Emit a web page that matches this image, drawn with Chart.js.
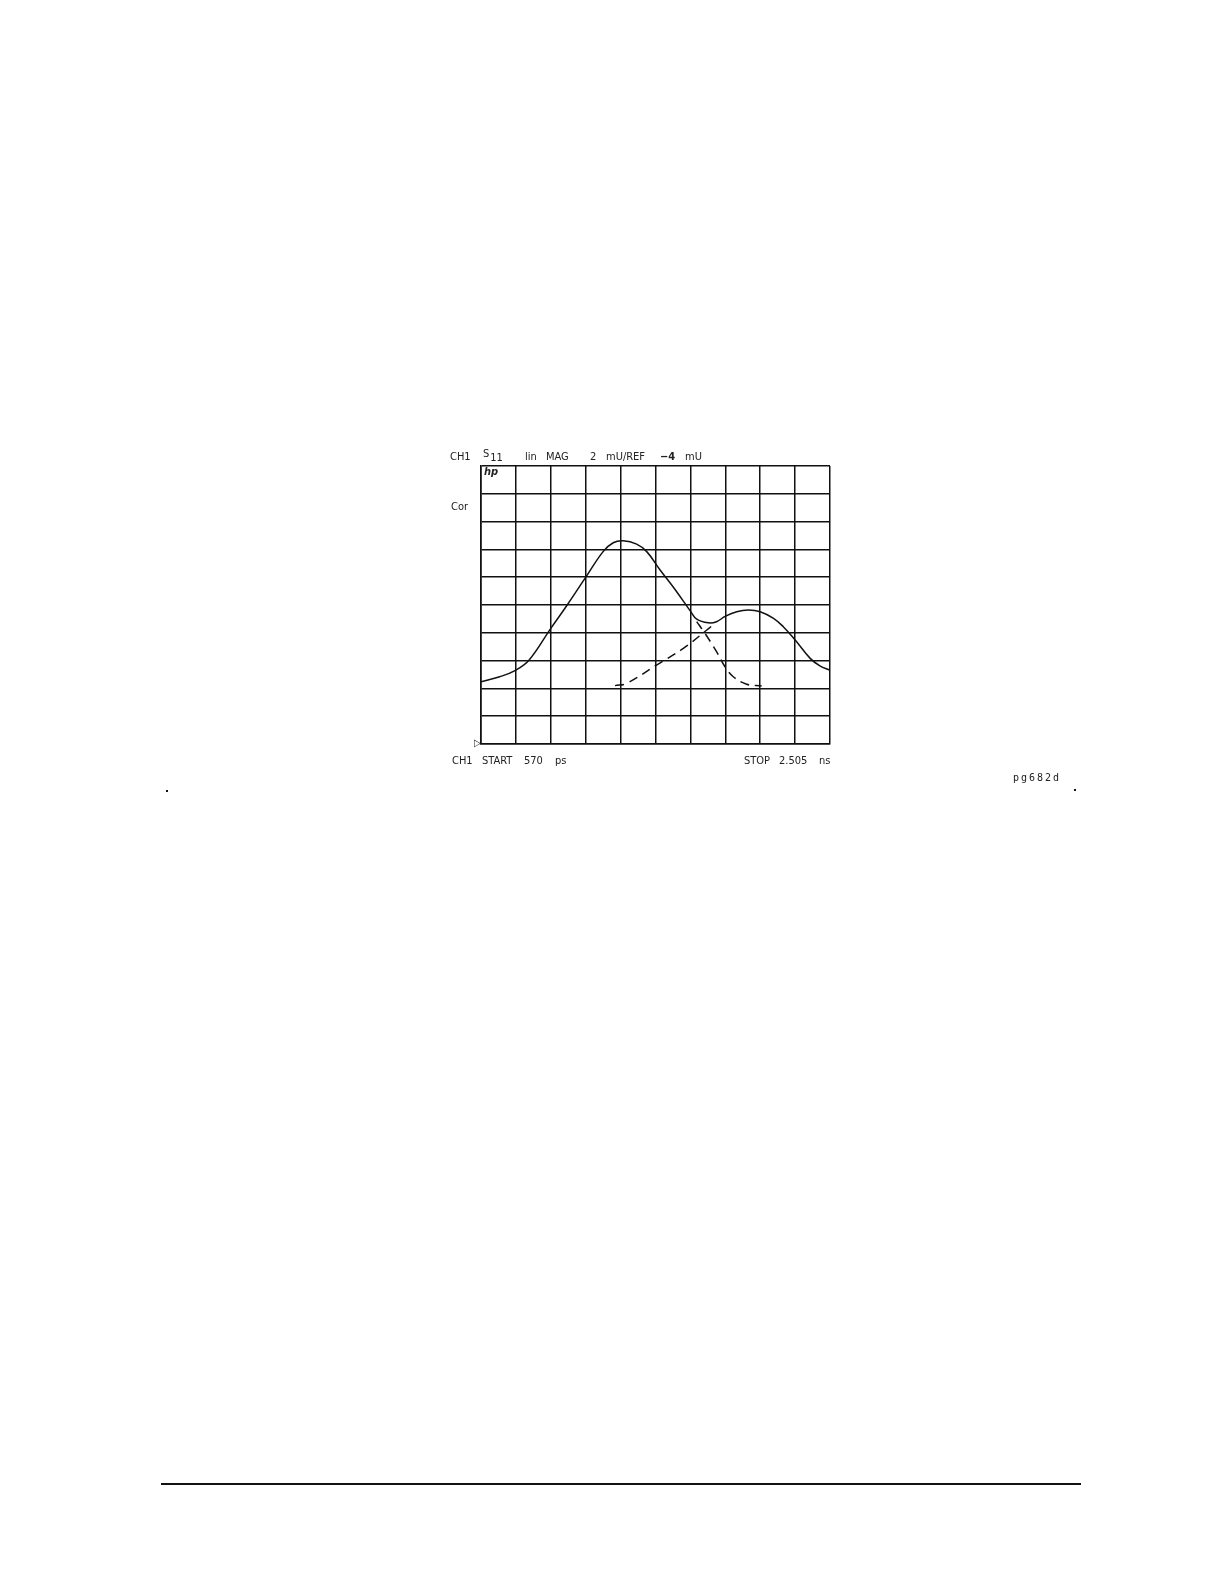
<!DOCTYPE html>
<html>
<head>
<meta charset="utf-8">
<script src="https://cdn.jsdelivr.net/npm/chart.js@4"></script>
<style>
  html, body { margin: 0; padding: 0; background: #fff; }
  #wrap { position: relative; width: 1224px; height: 1584px; }
  #chart { position: absolute; left: 0; top: 0; }
  .t { position: absolute; font-family: "Liberation Sans Narrow", "DejaVu Sans Condensed", "Liberation Sans", sans-serif;
       font-size: 11px; line-height: 12px; color: #222; white-space: nowrap; }
  .dot { position: absolute; width: 2px; height: 2px; background: #111; }
</style>
</head>
<body>
<div id="wrap">
  <canvas id="chart" width="1224" height="1584"></canvas>

  <!-- header line -->
  <div class="t" style="left:450px;top:451px;">CH1</div>
  <div class="t" style="left:483px;top:448px;">S<span style="position:relative;top:4px;margin-left:1px;">11</span></div>
  <div class="t" style="left:525px;top:451px;">lin</div>
  <div class="t" style="left:546px;top:451px;">MAG</div>
  <div class="t" style="left:590px;top:451px;">2</div>
  <div class="t" style="left:606px;top:451px;">mU/REF</div>
  <div class="t" style="left:660px;top:451px;font-weight:bold;">&minus;4</div>
  <div class="t" style="left:685px;top:451px;">mU</div>

  <div class="t" style="left:484px;top:466px;font-style:italic;font-weight:bold;">hp</div>
  <div class="t" style="left:451px;top:501px;">Cor</div>
  <div class="t" style="left:474px;top:737px;font-size:10px;">&#9655;</div>

  <!-- footer line -->
  <div class="t" style="left:452px;top:755px;">CH1</div>
  <div class="t" style="left:482px;top:755px;">START</div>
  <div class="t" style="left:524px;top:755px;">570</div>
  <div class="t" style="left:555px;top:755px;">ps</div>
  <div class="t" style="left:744px;top:755px;">STOP</div>
  <div class="t" style="left:779px;top:755px;">2.505</div>
  <div class="t" style="left:819px;top:755px;">ns</div>

  <div class="t" style="left:1013px;top:772px;letter-spacing:2px;font-family:'DejaVu Sans Mono',monospace;font-size:10px;">pg682d</div>
  <div class="dot" style="left:166px;top:790px;"></div>
  <div class="dot" style="left:1074px;top:789px;"></div>
  <div style="position:absolute;left:161px;top:1483px;width:920px;height:2px;background:#111;"></div>
</div>

<script>
// sweep settings (ns) and display scale (mU)
const startTime = 0.570;
const stopTime = 2.505;
const divisions = 10;
const refLevel = -4;
const scalePerDiv = 2;

// measured response, solid trace
const solidTime = [0.570, 0.674, 0.764, 0.837, 0.957, 1.048, 1.151, 1.247, 1.303, 1.359, 1.433, 1.489,
                   1.563, 1.648, 1.733, 1.766, 1.830, 1.876, 1.926, 1.988, 2.052, 2.118, 2.192, 2.246,
                   2.312, 2.395, 2.449, 2.505];
const solidMag  = [0.48, 0.84, 1.32, 2.04, 4.32, 6.00, 8.00, 9.84, 10.48, 10.62, 10.38, 9.84,
                   8.52, 7.08, 5.52, 4.98, 4.72, 4.80, 5.20, 5.52, 5.64, 5.52, 5.04, 4.44,
                   3.48, 2.16, 1.62, 1.30];

// first reflection (dashed, rising)
const riseTime = [1.313, 1.377, 1.543, 1.692, 1.822, 1.866];
const riseMag  = [0.20, 0.36, 1.68, 2.88, 4.20, 4.68];

// second reflection (dashed, falling)
const fallTime = [1.766, 1.812, 1.876, 1.923, 1.969, 2.043, 2.126];
const fallMag  = [4.80, 3.96, 2.64, 1.56, 0.84, 0.30, 0.18];

function toPoints(xs, ys) {
    return xs.map((x, i) => ({ x: x, y: ys[i] }));
}

const traceStyle = {
    borderColor: '#111',
    borderWidth: 1.5,
    pointRadius: 0,
    fill: false,
    tension: 0.4
};

new Chart(document.getElementById('chart'), {
    type: 'line',
    data: {
        datasets: [
            Object.assign({ label: 'S11', data: toPoints(solidTime, solidMag) }, traceStyle),
            Object.assign({ label: 'gate 1', data: toPoints(riseTime, riseMag), borderDash: [9, 6] }, traceStyle),
            Object.assign({ label: 'gate 2', data: toPoints(fallTime, fallMag), borderDash: [9, 6] }, traceStyle)
        ]
    },
    options: {
        responsive: false,
        animation: false,
        devicePixelRatio: 1,
        layout: { padding: { left: 481, top: 466, right: 394, bottom: 840 } },
        plugins: { legend: { display: false }, tooltip: { enabled: false } },
        scales: {
            x: {
                type: 'linear',
                min: startTime,
                max: stopTime,
                afterBuildTicks: (scale) => {
                    const step = (stopTime - startTime) / divisions;
                    const ticks = [];
                    for (let i = 0; i <= divisions; i++) ticks.push({ value: startTime + i * step });
                    scale.ticks = ticks;
                },
                ticks: { display: false },
                grid: { color: '#111', lineWidth: 1.5, drawTicks: false },
                border: { color: '#111', width: 1.6 }
            },
            y: {
                type: 'linear',
                min: refLevel,
                max: refLevel + divisions * scalePerDiv,
                ticks: { display: false, stepSize: scalePerDiv },
                grid: { color: '#111', lineWidth: 1.5, drawTicks: false },
                border: { color: '#111', width: 1.6 }
            }
        }
    }
});
</script>
</body>
</html>
